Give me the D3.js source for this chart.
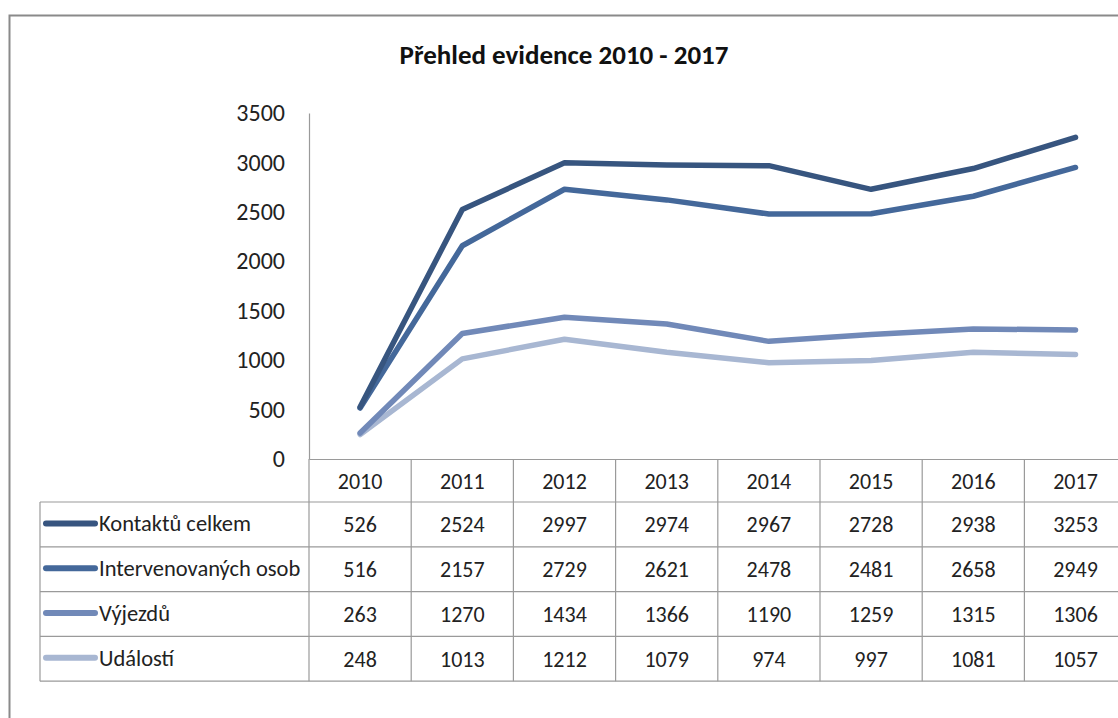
<!DOCTYPE html>
<html>
<head>
<meta charset="utf-8">
<script src="https://cdn.jsdelivr.net/npm/d3@7/dist/d3.min.js"></script>
<style>
  html, body { margin: 0; padding: 0; background: #fff; overflow: hidden; }
  svg { display: block; }
  text { font-family: Carlito, "Liberation Sans Narrow", "Arial Narrow", Lato, sans-serif; fill: #222; }
</style>
</head>
<body>
<svg id="chart" width="1118" height="718"></svg>
<script>
const title = "Přehled evidence 2010 - 2017";
const years = ["2010", "2011", "2012", "2013", "2014", "2015", "2016", "2017"];
const seriesNames = ["Kontaktů celkem", "Intervenovaných osob", "Výjezdů", "Událostí"];
const kontakty = [526, 2524, 2997, 2974, 2967, 2728, 2938, 3253];
const intervenovane = [516, 2157, 2729, 2621, 2478, 2481, 2658, 2949];
const vyjezdy = [263, 1270, 1434, 1366, 1190, 1259, 1315, 1306];
const udalosti = [248, 1013, 1212, 1079, 974, 997, 1081, 1057];
const yTicks = [0, 500, 1000, 1500, 2000, 2500, 3000, 3500];
const colors = ["#37557f", "#44689a", "#7189b8", "#a8b7d2"];

const series = [kontakty, intervenovane, vyjezdy, udalosti].map((vals, i) => ({
  name: seriesNames[i], values: vals, color: colors[i]
}));

const svg = d3.select("#chart");
const plotLeft = 309, plotTop = 113, plotBottom = 459;
const cellW = 102.2;
const tableLeft = 40;
const headerBottom = 502;
const rowH = 44.8;
const gridColor = "#9a9a9a";

const x = d3.scaleBand().domain(years).range([plotLeft, plotLeft + cellW * years.length]).padding(0);
const y = d3.scaleLinear().domain([0, 3500]).range([plotBottom, plotTop]);

// outer border
svg.append("rect").attr("x", 9.5).attr("y", 15.5).attr("width", 1300).attr("height", 900)
  .attr("fill", "none").attr("stroke", "#8a8a8a").attr("stroke-width", 2);

// title
svg.append("text").attr("x", 564).attr("y", 64).attr("text-anchor", "middle")
  .style("font-size", "27px").style("font-weight", "bold").style("fill", "#111").text(title);

// y axis
const yAxis = d3.axisLeft(y).tickValues(yTicks).tickSize(0).tickPadding(24).tickFormat(d3.format("d"));
const yg = svg.append("g").attr("transform", `translate(${plotLeft},0)`).call(yAxis);
yg.select(".domain").attr("stroke", gridColor).attr("stroke-width", 1.2);
yg.selectAll("text").style("font-size", "24px").style("fill", "#222")
  .style("font-family", 'Carlito, "Liberation Sans Narrow", "Arial Narrow", Lato, sans-serif');

// x axis baseline (top of header row)
const xg = svg.append("g").attr("transform", `translate(0,${plotBottom})`)
  .call(d3.axisBottom(x).tickSize(0).tickFormat(""));
xg.select(".domain").attr("stroke", gridColor).attr("stroke-width", 1.2);

// table
const tableBottom = headerBottom + rowH * series.length;
const tg = svg.append("g");
years.forEach(yr => {
  tg.append("line").attr("x1", x(yr)).attr("x2", x(yr)).attr("y1", plotBottom).attr("y2", tableBottom)
    .attr("stroke", gridColor).attr("stroke-width", 1.2);
});
tg.append("line").attr("x1", tableLeft).attr("x2", tableLeft).attr("y1", headerBottom).attr("y2", tableBottom)
  .attr("stroke", gridColor).attr("stroke-width", 1.2);
for (let r = 0; r <= series.length; r++) {
  const yy = headerBottom + r * rowH;
  tg.append("line").attr("x1", tableLeft).attr("x2", 1200).attr("y1", yy).attr("y2", yy)
    .attr("stroke", gridColor).attr("stroke-width", 1.2);
}
tg.selectAll("text.year").data(years).join("text").attr("class", "year")
  .attr("x", d => x(d) + x.bandwidth() / 2).attr("y", (plotBottom + headerBottom) / 2 + 8)
  .attr("text-anchor", "middle").style("font-size", "22px").text(d => d);

series.forEach((s, i) => {
  const cy = headerBottom + i * rowH + rowH / 2;
  tg.append("line").attr("x1", 46).attr("x2", 95).attr("y1", cy - 1).attr("y2", cy - 1)
    .attr("stroke", s.color).attr("stroke-width", 6).attr("stroke-linecap", "round");
  tg.append("text").attr("x", 99).attr("y", cy + 7).style("font-size", "22.5px").text(s.name);
  tg.selectAll(null).data(s.values).join("text")
    .attr("x", (d, j) => x(years[j]) + x.bandwidth() / 2).attr("y", cy + 8)
    .attr("text-anchor", "middle").style("font-size", "22px").text(d => d);
});

const line = d3.line().x((d, j) => x(years[j]) + x.bandwidth() / 2).y(d => y(d));
series.slice().reverse().forEach(s => {
  svg.append("path").datum(s.values).attr("d", line).attr("fill", "none")
    .attr("stroke", s.color).attr("stroke-width", 5.5)
    .attr("stroke-linejoin", "round").attr("stroke-linecap", "round");
});
</script>
</body>
</html>
